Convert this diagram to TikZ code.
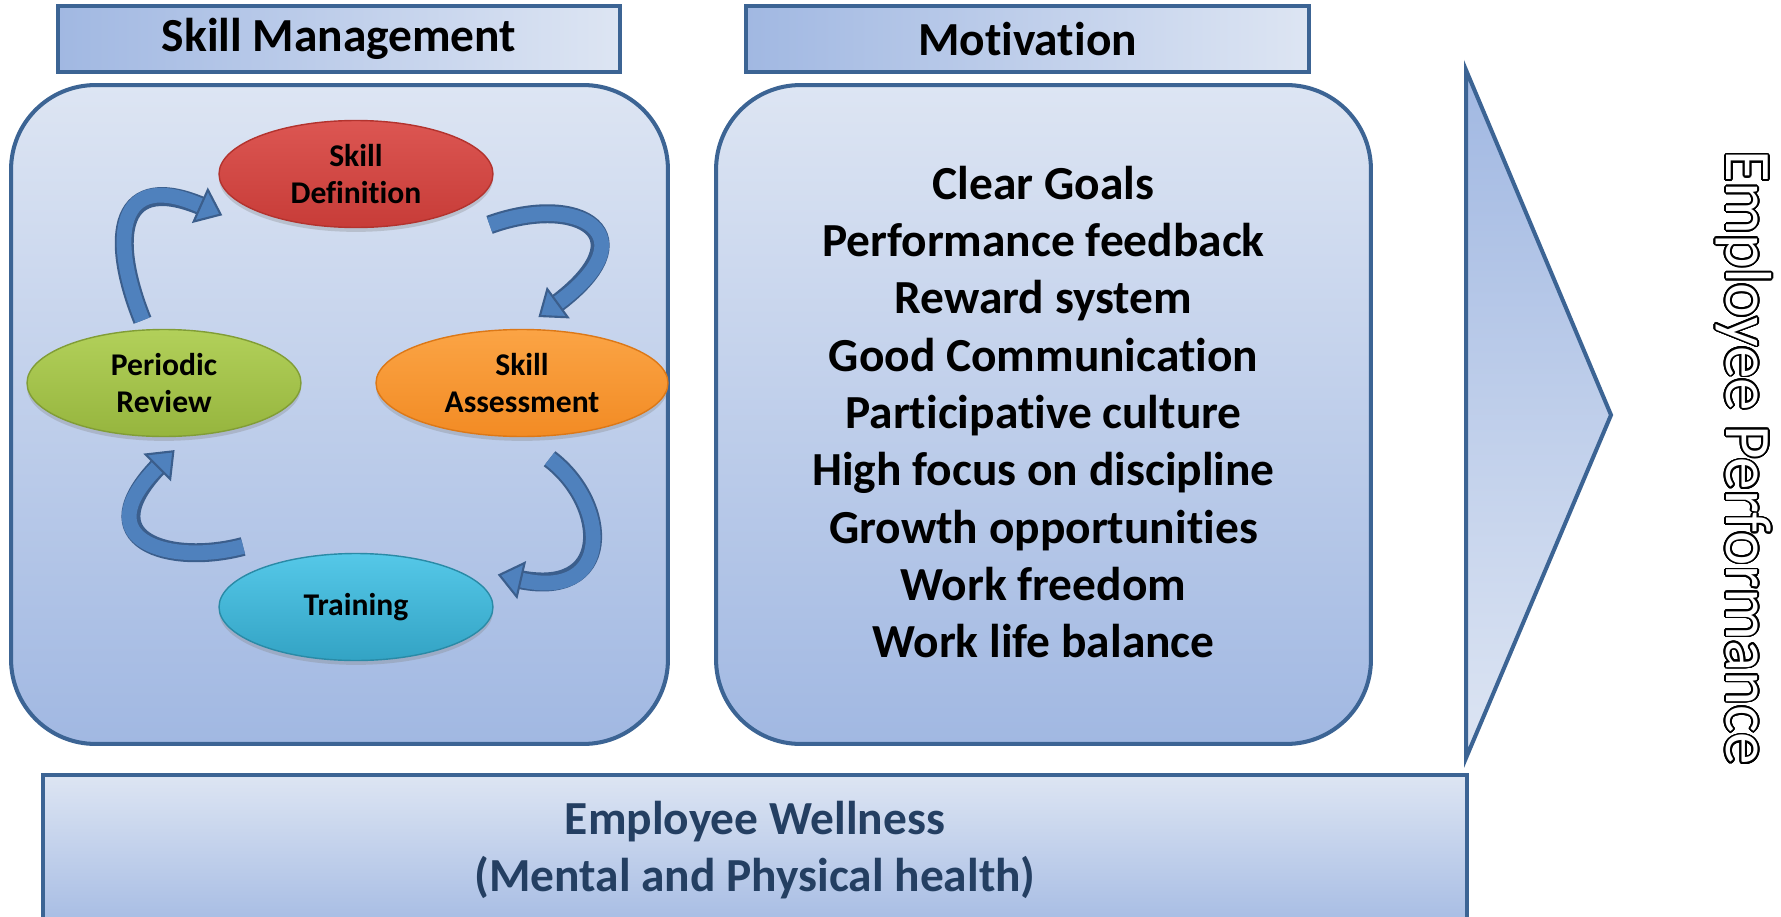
\documentclass[tikz,border=0pt]{standalone}
\usepackage{fontspec}
\setmainfont{Carlito}[Ligatures=NoCommon]
\usepackage{tikz}
\usepackage{contour}
\usetikzlibrary{arrows.meta,shapes.geometric,shadows}
\contourlength{0.9pt}
\contournumber{32}

\definecolor{edgeblue}{HTML}{3C6494}
\definecolor{boxlight}{HTML}{DDE5F3}
\definecolor{boxdark}{HTML}{A1B8E2}
\definecolor{arrowblue}{HTML}{4F81BD}
\definecolor{arrowedge}{HTML}{3B5E8C}
\definecolor{welltext}{HTML}{243F62}
\definecolor{sdtop}{HTML}{DC5652}
\definecolor{sdbot}{HTML}{C73C38}
\definecolor{sdedge}{HTML}{B3332E}
\definecolor{satop}{HTML}{FBA445}
\definecolor{sabot}{HTML}{F28B24}
\definecolor{saedge}{HTML}{DC7817}
\definecolor{prtop}{HTML}{B2D05A}
\definecolor{prbot}{HTML}{96B53E}
\definecolor{predge}{HTML}{819D36}
\definecolor{trtop}{HTML}{55C8E8}
\definecolor{trbot}{HTML}{33A3C4}
\definecolor{tredge}{HTML}{2A8AA6}

\tikzset{
  headbox/.style={draw=edgeblue, line width=2.3pt, left color=boxdark, right color=boxlight,
    minimum height=1.32cm, font=\fontsize{27}{32}\selectfont\bfseries},
  panel/.style={draw=edgeblue, line width=2.3pt, rounded corners=48pt,
    top color=boxlight, bottom color=boxdark, minimum height=13.18cm},
  stage/.style={ellipse, line width=0.8pt, minimum height=2.14cm, align=center,
    font=\fontsize{18}{21.6}\selectfont\bfseries,
    drop shadow={shadow xshift=0pt, shadow yshift=-2.5pt, opacity=0.3}},
  cyclearrow/.style={draw=arrowblue, line width=8.4pt,
    -{Triangle[length=14pt,width=22pt,line width=1.2pt,fill=arrowblue,color=arrowedge]},
    preaction={draw=arrowedge, line width=10.8pt, arrows=-, shorten >=10pt}}
}

\begin{document}
\begin{tikzpicture}[x=0.02cm,y=0.02cm]
    \tikzstyle{every node}+=[inner sep=0pt]
    \useasboundingbox (0,0) rectangle (1781,-916);
    \node[headbox, minimum width=11.24cm] (skillhead) at (339,-39) {Skill Management};
    \node[headbox, minimum width=11.26cm] (motivhead) at (1027.5,-39) {Motivation};
    \node[panel, minimum width=13.14cm] (skillpanel) at (339.5,-414.5) {};
    \node[panel, minimum width=13.1cm] (motivpanel) at (1043.5,-414.5) {};
    \node[align=center, font=\fontsize{27}{32.6}\selectfont\bfseries] (motivlist) at (1043.5,-412)
      {Clear Goals\\Performance feedback\\Reward system\\Good Communication\\Participative culture\\
       High focus on discipline\\Growth opportunities\\Work freedom\\Work life balance};
    \draw[draw=edgeblue, line width=2.3pt, top color=boxdark, bottom color=boxlight]
      (1466,-70) -- (1611,-415) -- (1466,-758) -- cycle;
    \node[rotate=-90, font=\fontsize{37}{40}\selectfont] (perf) at (1743,-458)
      {\color{white}\contour{black}{Employee Performance}};
    \draw[draw=edgeblue, line width=2.3pt, top color=boxlight, bottom color=boxdark]
      (43,-775) rectangle (1467,-940);
    \node[align=center, text=welltext, font=\fontsize{27}{32.3}\selectfont\bfseries] (wellness) at (755,-850)
      {Employee Wellness\\(Mental and Physical health)};
    \node[stage, minimum width=5.48cm, top color=sdtop, bottom color=sdbot, draw=sdedge] (sd) at (356,-174) {Skill\\Definition};
    \node[stage, minimum width=5.84cm, top color=satop, bottom color=sabot, draw=saedge] (sa) at (522,-383) {Skill\\Assessment};
    \node[stage, minimum width=5.48cm, top color=prtop, bottom color=prbot, draw=predge] (pr) at (164,-383) {Periodic\\Review};
    \node[stage, minimum width=5.48cm, top color=trtop, bottom color=trbot, draw=tredge] (tr) at (356,-607) {Training};
    \draw[cyclearrow] ([shift={(-3,9)}]pr.109) .. controls +(112:90) and +(156:115) .. ([shift={(-25,-8)}]sd.197);
    \draw[cyclearrow] ([shift={(35,-13)}]sd.-21) .. controls +(20:95) and +(36:140) .. ([shift={(3,12)}]sa.76);
    \draw[cyclearrow] ([shift={(8,-22)}]sa.-70) .. controls +(-37:75) and +(-13:120) .. ([shift={(23,5)}]tr.13);
    \draw[cyclearrow] ([shift={(-31,17)}]tr.152) .. controls +(195:74) and +(225:130) .. ([shift={(2,-13)}]pr.-81);
\end{tikzpicture}
\end{document}
